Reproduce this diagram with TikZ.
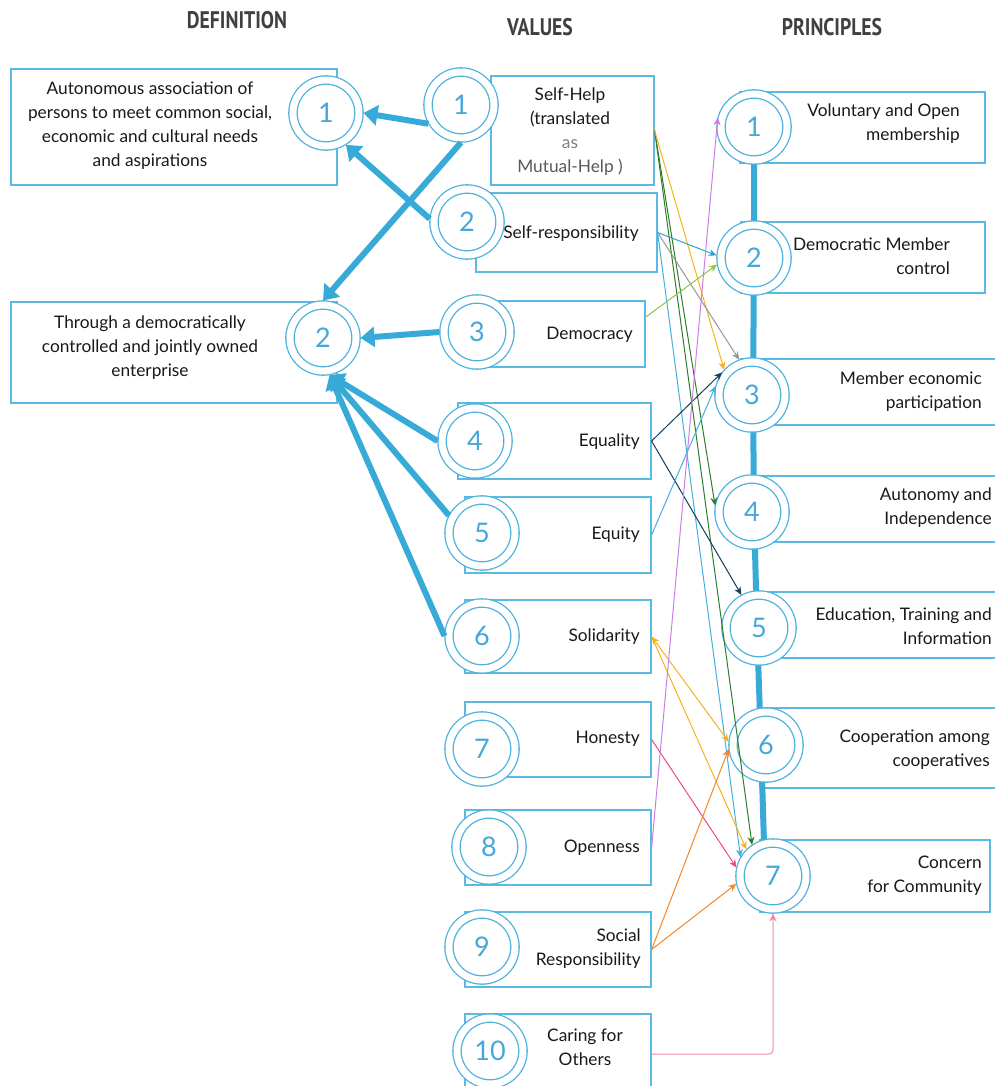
\documentclass[tikz,border=0pt]{standalone}
\usepackage{fontspec}
\setmainfont{Lato}
\newfontfamily\titlefont{PT Sans}
\usetikzlibrary{arrows.meta, calc}
\definecolor{heavyblue}{RGB}{56, 170, 216}
\definecolor{ringblue}{RGB}{78, 178, 222}
\definecolor{boxblue}{RGB}{90, 186, 228}
\definecolor{numblue}{RGB}{70, 168, 218}
\definecolor{linkgreen}{RGB}{45, 125, 45}
\definecolor{linkamber}{RGB}{246, 178, 30}
\definecolor{linkgrey}{RGB}{150, 150, 150}
\definecolor{linkteal}{RGB}{40, 165, 205}
\definecolor{linklime}{RGB}{145, 196, 65}
\definecolor{linknavy}{RGB}{22, 62, 92}
\definecolor{linksky}{RGB}{70, 175, 225}
\definecolor{linkrose}{RGB}{240, 75, 115}
\definecolor{linkviolet}{RGB}{205, 125, 232}
\definecolor{linkorange}{RGB}{246, 135, 40}
\definecolor{linkpink}{RGB}{240, 135, 165}

\begin{document}
\begin{tikzpicture}[x=1pt, y=-1pt,
    box/.style={rectangle, draw=boxblue, line width=1.2pt, fill=white, inner sep=0pt},
    txt/.style={inner sep=0pt, text=black!90, font=\fontsize{17.3}{24}\selectfont},
    num/.style={circle, draw=ringblue, double=white, double distance=7pt, line width=1.3pt,
                fill=white, minimum size=66pt, inner sep=0pt, outer sep=4.5pt,
                text=numblue, font=\fontsize{27}{27}\selectfont},
    heavy/.style={draw=heavyblue, line width=6pt, -{Triangle[length=14pt, width=20pt]}},
    link/.style={line width=1pt, -{Stealth[length=8pt, width=7pt]}},
    title/.style={inner sep=0pt, text=black!75, font=\titlefont\bfseries\fontsize{24}{24}\selectfont}]

    \useasboundingbox (0,0) rectangle (995,1086);

    % Titles
    \node[title] (tdef) at (237,20) {\scalebox{0.82}[1]{DEFINITION}};
    \node[title] (tval) at (540,27) {\scalebox{0.82}[1]{VALUES}};
    \node[title] (tpri) at (832,27) {\scalebox{0.82}[1]{PRINCIPLES}};

    % Boxes
    \node[box, minimum width=326pt, minimum height=116pt] (d1box) at (174,127) {};
    \node[box, minimum width=326pt, minimum height=101pt] (d2box) at (174,352.5) {};

    \node[box, minimum width=163pt, minimum height=109pt] (v1box) at (572.5,130.5) {};
    \node[box, minimum width=181pt, minimum height=79pt] (v2box) at (566.5,232.5) {};
    \node[box, minimum width=172pt, minimum height=66pt] (v3box) at (559,334) {};
    \node[box, minimum width=193pt, minimum height=76pt] (v4box) at (554.5,441) {};
    \node[box, minimum width=186pt, minimum height=76pt] (v5box) at (558,535) {};
    \node[box, minimum width=186pt, minimum height=73pt] (v6box) at (558,636.5) {};
    \node[box, minimum width=186pt, minimum height=75pt] (v7box) at (558,739.5) {};
    \node[box, minimum width=186pt, minimum height=75pt] (v8box) at (558,847.5) {};
    \node[box, minimum width=186pt, minimum height=75pt] (v9box) at (558,949.5) {};
    \node[box, minimum width=186pt, minimum height=80pt] (v10box) at (558,1054) {};

    \node[box, minimum width=245pt, minimum height=71pt] (p1box) at (862.5,127.5) {};
    \node[box, minimum width=244pt, minimum height=71pt] (p2box) at (863,257.5) {};
    \node[box, minimum width=259pt, minimum height=66pt] (p3box) at (870.5,392) {};
    \node[box, minimum width=255pt, minimum height=66pt] (p4box) at (872.5,509) {};
    \node[box, minimum width=249pt, minimum height=66pt] (p5box) at (875.5,625) {};
    \node[box, minimum width=240pt, minimum height=80pt] (p6box) at (880,748) {};
    \node[box, minimum width=230pt, minimum height=72pt] (p7box) at (875,876) {};

    % Spine of the principles
    \draw[heavyblue, line width=6pt] (754,127) -- (754,258) -- (753,395) -- (754,512)
        -- (757,628) -- (761,745) -- (765,876);

    % Numbered rings
    \node[num] (d1) at (326,113) {1};
    \node[num] (d2) at (323,338) {2};

    \node[num] (v1) at (461,105) {1};
    \node[num] (v2) at (467,222) {2};
    \node[num] (v3) at (477,332) {3};
    \node[num] (v4) at (475,441) {4};
    \node[num] (v5) at (482,533) {5};
    \node[num] (v6) at (482,636) {6};
    \node[num] (v7) at (482,749) {7};
    \node[num] (v8) at (489,847) {8};
    \node[num] (v9) at (482,947) {9};
    \node[num] (v10) at (490,1051) {10};

    \node[num] (p1) at (754,127) {1};
    \node[num] (p2) at (754,258) {2};
    \node[num] (p3) at (752,395) {3};
    \node[num] (p4) at (752,512) {4};
    \node[num] (p5) at (759,628) {5};
    \node[num] (p6) at (766,745) {6};
    \node[num] (p7) at (773,876) {7};

    % Texts
    \node[txt, align=center] (d1text) at (150,126) {Autonomous association of\\persons to meet common social,\\economic and cultural needs\\and aspirations};
    \node[txt, align=center] (d2text) at (150,348) {Through a democratically\\controlled and jointly owned\\enterprise};

    \node[txt, align=center] (v1text) at (570,132) {Self-Help\\(translated\\{\color{black!50}as}\\{\color{black!65}Mutual-Help )}};
    \node[txt] (v2text) at (571,234) {Self-responsibility};
    \node[txt, anchor=east] (v3text) at (633,335) {Democracy};
    \node[txt, anchor=east] (v4text) at (640,442) {Equality};
    \node[txt, anchor=east] (v5text) at (640,535) {Equity};
    \node[txt, anchor=east] (v6text) at (640,637) {Solidarity};
    \node[txt, anchor=east] (v7text) at (640,739) {Honesty};
    \node[txt, anchor=east] (v8text) at (640,848) {Openness};
    \node[txt, anchor=east, align=right] (v9text) at (641,949) {Social\\Responsibility};
    \node[txt, align=center] (v10text) at (585,1047) {Caring for\\Others};

    \node[txt, anchor=east, align=right] (p1text) at (960,124) {Voluntary and Open\\membership};
    \node[txt, anchor=east, align=right] (p2text) at (950,256) {Democratic Member\\control};
    \node[txt, anchor=east, align=right] (p3text) at (982,392) {Member economic\\participation};
    \node[txt, anchor=east, align=right] (p4text) at (992,508) {Autonomy and\\Independence};
    \node[txt, anchor=east, align=right] (p5text) at (992,626) {Education, Training and\\Information};
    \node[txt, anchor=east, align=right] (p6text) at (990,750) {Cooperation among\\cooperatives};
    \node[txt, anchor=east, align=right] (p7text) at (982,876) {Concern\\for Community};

    % Values to definition
    \draw[heavy] (v1.210) -- (d1.east);
    \draw[heavy] (v1.south) -- (d2.north);
    \draw[heavy] (v2.175) -- (d1.-58);
    \draw[heavy] (v3.west) -- (d2.east);
    \draw[heavy] (v4.west) -- (d2.-80);
    \draw[heavy] (v5.152) -- (d2.-80);
    \draw[heavy] (v6.west) -- (d2.-80);

    % Values to principles
    \draw[link, linkgreen] (v1box.east) -- (p4.170);
    \draw[link, linkgreen] (v1box.east) -- (p7.124);
    \draw[link, linkamber] (v1box.east) -- (p3.138);
    \draw[link, linkteal] (v2box.east) -- (p2.176);
    \draw[link, linkgrey] (v2box.east) -- (p3.110);
    \draw[link, linksky] (v2box.east) -- (p7.150);
    \draw[link, linklime] (v3box.11) -- (p2.190);
    \draw[link, linknavy] (v4box.east) -- (p3.143);
    \draw[link, linknavy] (v4box.east) -- (p5.118);
    \draw[link, linksky] (v5box.east) -- (p3.166);
    \draw[link, linkamber, {Stealth[length=8pt, width=7pt]}-{Stealth[length=8pt, width=7pt]}] (v6box.east) -- (p6.175);
    \draw[link, linkamber] (v6box.east) -- (p7.135);
    \draw[link, linkrose] (v7box.east) -- (p7.167);
    \draw[link, linkviolet] (v8box.east) -- (p1.165);
    \draw[link, linkorange] (v9box.east) -- (p6.186);
    \draw[link, linkorange] (v9box.east) -- (p7.192);
    \draw[link, linkpink, rounded corners=4pt] (v10box.east) -| (p7.south);
\end{tikzpicture}
\end{document}
